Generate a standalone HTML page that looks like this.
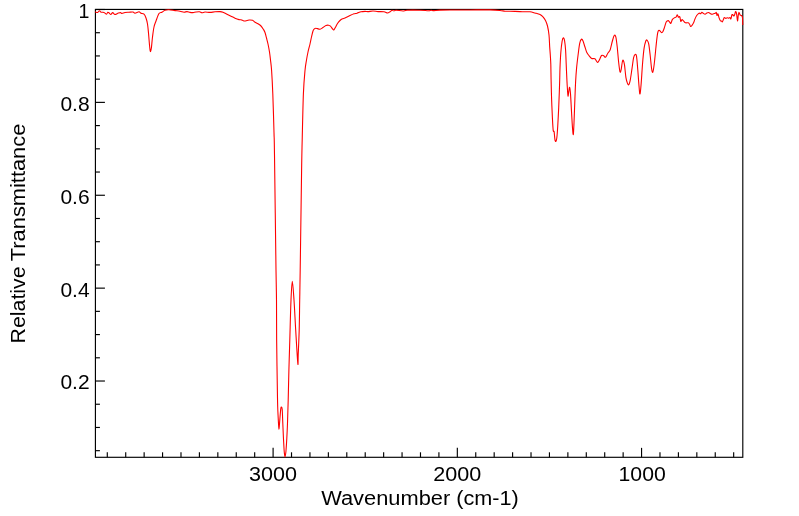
<!DOCTYPE html>
<html>
<head>
<meta charset="utf-8">
<title>IR Spectrum</title>
<style>
html,body{margin:0;padding:0;background:#fff;}
body{width:799px;height:516px;overflow:hidden;}
svg{display:block;will-change:transform;}
text{font-family:"Liberation Sans",sans-serif;font-size:19.6px;fill:#000;}
text.t{font-size:20px;}
</style>
</head>
<body>
<svg width="799" height="516" viewBox="0 0 799 516">
<rect x="0" y="0" width="799" height="516" fill="#ffffff"/>
<g stroke="#000" stroke-width="1.15" fill="none">
<rect x="95.42" y="9.43" width="647.38" height="447.87"/>
<line x1="95.42" y1="450.68" x2="99.92" y2="450.68"/>
<line x1="95.42" y1="427.46" x2="99.92" y2="427.46"/>
<line x1="95.42" y1="404.24" x2="99.92" y2="404.24"/>
<line x1="95.42" y1="381.02" x2="104.92" y2="381.02"/>
<line x1="95.42" y1="357.80" x2="99.92" y2="357.80"/>
<line x1="95.42" y1="334.58" x2="99.92" y2="334.58"/>
<line x1="95.42" y1="311.36" x2="99.92" y2="311.36"/>
<line x1="95.42" y1="288.14" x2="104.92" y2="288.14"/>
<line x1="95.42" y1="264.92" x2="99.92" y2="264.92"/>
<line x1="95.42" y1="241.70" x2="99.92" y2="241.70"/>
<line x1="95.42" y1="218.48" x2="99.92" y2="218.48"/>
<line x1="95.42" y1="195.26" x2="104.92" y2="195.26"/>
<line x1="95.42" y1="172.04" x2="99.92" y2="172.04"/>
<line x1="95.42" y1="148.82" x2="99.92" y2="148.82"/>
<line x1="95.42" y1="125.60" x2="99.92" y2="125.60"/>
<line x1="95.42" y1="102.38" x2="104.92" y2="102.38"/>
<line x1="95.42" y1="79.16" x2="99.92" y2="79.16"/>
<line x1="95.42" y1="55.94" x2="99.92" y2="55.94"/>
<line x1="95.42" y1="32.72" x2="99.92" y2="32.72"/>
<line x1="95.42" y1="9.50" x2="104.92" y2="9.50"/>
<line x1="733.67" y1="457.30" x2="733.67" y2="452.30"/>
<line x1="715.25" y1="457.30" x2="715.25" y2="452.30"/>
<line x1="696.83" y1="457.30" x2="696.83" y2="452.30"/>
<line x1="678.41" y1="457.30" x2="678.41" y2="452.30"/>
<line x1="659.98" y1="457.30" x2="659.98" y2="452.30"/>
<line x1="641.56" y1="457.30" x2="641.56" y2="447.85"/>
<line x1="623.14" y1="457.30" x2="623.14" y2="452.30"/>
<line x1="604.71" y1="457.30" x2="604.71" y2="452.30"/>
<line x1="586.29" y1="457.30" x2="586.29" y2="452.30"/>
<line x1="567.87" y1="457.30" x2="567.87" y2="452.30"/>
<line x1="549.45" y1="457.30" x2="549.45" y2="452.30"/>
<line x1="531.02" y1="457.30" x2="531.02" y2="452.30"/>
<line x1="512.60" y1="457.30" x2="512.60" y2="452.30"/>
<line x1="494.18" y1="457.30" x2="494.18" y2="452.30"/>
<line x1="475.75" y1="457.30" x2="475.75" y2="452.30"/>
<line x1="457.33" y1="457.30" x2="457.33" y2="447.85"/>
<line x1="438.91" y1="457.30" x2="438.91" y2="452.30"/>
<line x1="420.48" y1="457.30" x2="420.48" y2="452.30"/>
<line x1="402.06" y1="457.30" x2="402.06" y2="452.30"/>
<line x1="383.64" y1="457.30" x2="383.64" y2="452.30"/>
<line x1="365.22" y1="457.30" x2="365.22" y2="452.30"/>
<line x1="346.79" y1="457.30" x2="346.79" y2="452.30"/>
<line x1="328.37" y1="457.30" x2="328.37" y2="452.30"/>
<line x1="309.95" y1="457.30" x2="309.95" y2="452.30"/>
<line x1="291.52" y1="457.30" x2="291.52" y2="452.30"/>
<line x1="273.10" y1="457.30" x2="273.10" y2="447.85"/>
<line x1="254.68" y1="457.30" x2="254.68" y2="452.30"/>
<line x1="236.25" y1="457.30" x2="236.25" y2="452.30"/>
<line x1="217.83" y1="457.30" x2="217.83" y2="452.30"/>
<line x1="199.41" y1="457.30" x2="199.41" y2="452.30"/>
<line x1="180.99" y1="457.30" x2="180.99" y2="452.30"/>
<line x1="162.56" y1="457.30" x2="162.56" y2="452.30"/>
<line x1="144.14" y1="457.30" x2="144.14" y2="452.30"/>
<line x1="125.72" y1="457.30" x2="125.72" y2="452.30"/>
<line x1="107.29" y1="457.30" x2="107.29" y2="452.30"/>
</g>
<path fill="none" stroke="#ff0000" stroke-width="1.1" stroke-linejoin="round" stroke-linecap="butt" d="M95.00,11.70C95.43,11.83 96.85,12.67 97.60,12.50C98.35,12.33 98.93,10.75 99.50,10.70C100.07,10.65 100.25,11.92 101.00,12.20C101.75,12.48 103.08,12.07 104.00,12.40C104.92,12.73 105.87,14.23 106.50,14.20C107.13,14.17 107.33,12.38 107.80,12.20C108.27,12.02 108.80,12.72 109.30,13.10C109.80,13.48 110.23,14.58 110.80,14.50C111.37,14.42 112.02,12.60 112.70,12.60C113.38,12.60 113.97,14.42 114.90,14.50C115.83,14.58 117.35,13.42 118.30,13.10C119.25,12.78 119.98,12.53 120.60,12.60C121.22,12.67 121.27,13.52 122.00,13.50C122.73,13.48 123.83,12.72 125.00,12.50C126.17,12.28 127.67,12.28 129.00,12.20C130.33,12.12 132.00,11.83 133.00,12.00C134.00,12.17 134.00,13.23 135.00,13.20C136.00,13.17 138.00,11.80 139.00,11.80C140.00,11.80 140.17,12.80 141.00,13.20C141.83,13.60 143.17,13.40 144.00,14.20C144.83,15.00 145.42,16.37 146.00,18.00C146.58,19.63 147.08,21.50 147.50,24.00C147.92,26.50 148.17,29.50 148.50,33.00C148.83,36.50 149.23,42.10 149.50,45.00C149.77,47.90 149.93,49.30 150.10,50.40C150.27,51.50 150.37,51.60 150.50,51.60C150.63,51.60 150.73,51.17 150.90,50.40C151.07,49.63 151.23,49.23 151.50,47.00C151.77,44.77 152.08,40.33 152.50,37.00C152.92,33.67 153.42,29.67 154.00,27.00C154.58,24.33 155.17,23.25 156.00,21.00C156.83,18.75 158.00,14.97 159.00,13.50C160.00,12.03 161.00,12.75 162.00,12.20C163.00,11.65 163.83,10.60 165.00,10.20C166.17,9.80 167.33,9.73 169.00,9.80C170.67,9.87 173.17,10.37 175.00,10.60C176.83,10.83 178.50,10.93 180.00,11.20C181.50,11.47 182.83,12.13 184.00,12.20C185.17,12.27 186.00,11.57 187.00,11.60C188.00,11.63 189.00,12.23 190.00,12.40C191.00,12.57 192.00,12.67 193.00,12.60C194.00,12.53 194.92,12.13 196.00,12.00C197.08,11.87 198.50,11.67 199.50,11.80C200.50,11.93 201.08,12.77 202.00,12.80C202.92,12.83 203.67,12.07 205.00,12.00C206.33,11.93 208.33,12.43 210.00,12.40C211.67,12.37 213.33,11.93 215.00,11.80C216.67,11.67 218.67,11.53 220.00,11.60C221.33,11.67 221.83,11.77 223.00,12.20C224.17,12.63 225.67,13.53 227.00,14.20C228.33,14.87 229.67,15.53 231.00,16.20C232.33,16.87 233.67,17.63 235.00,18.20C236.33,18.77 238.00,19.33 239.00,19.60C240.00,19.87 240.17,19.57 241.00,19.80C241.83,20.03 243.17,20.83 244.00,21.00C244.83,21.17 245.17,20.97 246.00,20.80C246.83,20.63 247.92,20.08 249.00,20.00C250.08,19.92 251.50,19.93 252.50,20.30C253.50,20.67 254.08,21.62 255.00,22.20C255.92,22.78 257.00,23.17 258.00,23.80C259.00,24.43 260.08,25.05 261.00,26.00C261.92,26.95 262.83,28.42 263.50,29.50C264.17,30.58 264.50,31.08 265.00,32.50C265.50,33.92 266.00,36.08 266.50,38.00C267.00,39.92 267.50,41.67 268.00,44.00C268.50,46.33 269.08,49.33 269.50,52.00C269.92,54.67 270.15,56.92 270.50,60.00C270.85,63.08 271.22,64.87 271.60,70.50C271.98,76.13 272.40,83.47 272.80,93.80C273.20,104.13 273.72,122.30 274.00,132.50C274.28,142.70 274.17,132.08 274.50,155.00C274.83,177.92 275.67,245.83 276.00,270.00C276.33,294.17 276.39,288.33 276.50,300.00C276.61,311.67 276.48,323.67 276.65,340.00C276.82,356.33 277.27,385.48 277.50,398.00C277.73,410.52 277.87,410.60 278.05,415.10C278.23,419.60 278.44,422.63 278.60,425.00C278.76,427.37 278.87,429.30 279.00,429.30C279.13,429.30 279.25,426.78 279.40,425.00C279.55,423.22 279.67,421.32 279.90,418.60C280.13,415.88 280.53,410.63 280.80,408.70C281.07,406.77 281.27,406.90 281.50,407.00C281.73,407.10 281.98,406.58 282.20,409.30C282.42,412.02 282.60,418.65 282.80,423.30C283.00,427.95 283.18,432.75 283.40,437.20C283.62,441.65 283.90,447.03 284.10,450.00C284.30,452.97 284.45,453.83 284.60,455.00C284.75,456.17 284.87,457.00 285.00,457.00C285.13,457.00 285.24,455.97 285.40,455.00C285.56,454.03 285.72,453.97 285.95,451.20C286.18,448.43 286.54,443.05 286.80,438.40C287.06,433.75 287.27,429.70 287.50,423.30C287.73,416.90 287.97,408.88 288.20,400.00C288.43,391.12 288.63,380.00 288.90,370.00C289.17,360.00 289.45,351.67 289.80,340.00C290.15,328.33 290.58,309.78 291.00,300.00C291.42,290.22 291.80,281.30 292.30,281.30C292.80,281.30 293.43,291.88 294.00,300.00C294.57,308.12 295.07,319.45 295.70,330.00C296.33,340.55 297.38,359.17 297.80,363.30C298.22,367.43 297.97,360.35 298.20,354.80C298.43,349.25 298.95,339.13 299.20,330.00C299.45,320.87 299.53,310.00 299.70,300.00C299.87,290.00 299.88,291.67 300.20,270.00C300.52,248.33 301.27,191.67 301.60,170.00C301.93,148.33 301.90,152.70 302.20,140.00C302.50,127.30 302.93,105.38 303.40,93.80C303.87,82.22 304.48,76.13 305.00,70.50C305.52,64.87 306.00,63.08 306.50,60.00C307.00,56.92 307.42,54.67 308.00,52.00C308.58,49.33 309.42,46.50 310.00,44.00C310.58,41.50 311.00,39.17 311.50,37.00C312.00,34.83 312.50,32.37 313.00,31.00C313.50,29.63 314.00,29.27 314.50,28.80C315.00,28.33 315.08,28.13 316.00,28.20C316.92,28.27 318.83,29.32 320.00,29.20C321.17,29.08 322.00,28.12 323.00,27.50C324.00,26.88 325.08,25.88 326.00,25.50C326.92,25.12 327.75,25.08 328.50,25.20C329.25,25.32 329.67,25.40 330.50,26.20C331.33,27.00 332.75,29.70 333.50,30.00C334.25,30.30 334.33,29.08 335.00,28.00C335.67,26.92 336.67,24.75 337.50,23.50C338.33,22.25 339.17,21.28 340.00,20.50C340.83,19.72 341.67,19.22 342.50,18.80C343.33,18.38 343.75,18.55 345.00,18.00C346.25,17.45 348.50,16.20 350.00,15.50C351.50,14.80 352.83,14.18 354.00,13.80C355.17,13.42 355.83,13.53 357.00,13.20C358.17,12.87 359.67,12.10 361.00,11.80C362.33,11.50 363.83,11.43 365.00,11.40C366.17,11.37 366.67,11.67 368.00,11.60C369.33,11.53 371.33,11.00 373.00,11.00C374.67,11.00 376.17,11.47 378.00,11.60C379.83,11.73 382.42,11.57 384.00,11.80C385.58,12.03 386.50,13.00 387.50,13.00C388.50,13.00 389.25,12.27 390.00,11.80C390.75,11.33 391.33,10.33 392.00,10.20C392.67,10.07 393.33,11.00 394.00,11.00C394.67,11.00 394.50,10.20 396.00,10.20C397.50,10.20 401.17,11.00 403.00,11.00C404.83,11.00 404.17,10.33 407.00,10.20C409.83,10.07 416.42,10.10 420.00,10.20C423.58,10.30 426.67,10.78 428.50,10.80C430.33,10.82 430.08,10.33 431.00,10.30C431.92,10.27 432.50,10.63 434.00,10.60C435.50,10.57 436.50,10.20 440.00,10.10C443.50,10.00 450.00,10.03 455.00,10.00C460.00,9.97 465.83,9.97 470.00,9.95C474.17,9.92 476.67,9.86 480.00,9.85C483.33,9.84 486.67,9.79 490.00,9.90C493.33,10.01 497.50,10.28 500.00,10.50C502.50,10.72 503.33,11.08 505.00,11.20C506.67,11.32 507.50,11.13 510.00,11.20C512.50,11.27 517.50,11.50 520.00,11.60C522.50,11.70 523.33,11.77 525.00,11.80C526.67,11.83 528.33,11.60 530.00,11.80C531.67,12.00 533.33,12.55 535.00,13.00C536.67,13.45 538.67,13.87 540.00,14.50C541.33,15.13 542.08,15.80 543.00,16.80C543.92,17.80 544.75,18.97 545.50,20.50C546.25,22.03 546.92,23.58 547.50,26.00C548.08,28.42 548.63,31.50 549.00,35.00C549.37,38.50 549.48,43.67 549.70,47.00C549.92,50.33 550.12,52.15 550.30,55.00C550.48,57.85 550.67,59.93 550.80,64.10C550.93,68.27 550.97,74.20 551.10,80.00C551.23,85.80 551.38,92.60 551.60,98.90C551.82,105.20 552.13,112.55 552.40,117.80C552.67,123.05 552.92,128.08 553.20,130.40C553.48,132.72 553.82,130.22 554.10,131.70C554.38,133.18 554.62,137.67 554.90,139.30C555.18,140.93 555.48,141.72 555.80,141.50C556.12,141.28 556.48,140.47 556.80,138.00C557.12,135.53 557.38,131.75 557.70,126.70C558.02,121.65 558.43,113.38 558.70,107.70C558.97,102.02 559.13,97.22 559.30,92.60C559.47,87.98 559.58,84.12 559.70,80.00C559.82,75.88 559.82,72.43 560.00,67.90C560.18,63.37 560.45,57.22 560.80,52.80C561.15,48.38 561.68,43.88 562.10,41.40C562.52,38.92 562.88,38.00 563.30,37.90C563.72,37.80 564.22,38.73 564.60,40.80C564.98,42.87 565.33,46.42 565.60,50.30C565.87,54.18 565.98,59.15 566.20,64.10C566.42,69.05 566.68,75.68 566.90,80.00C567.12,84.32 567.32,87.32 567.50,90.00C567.68,92.68 567.78,95.88 568.00,96.10C568.22,96.32 568.53,92.77 568.80,91.30C569.07,89.83 569.32,86.87 569.60,87.30C569.88,87.73 570.18,89.87 570.50,93.90C570.82,97.93 571.17,105.83 571.50,111.50C571.83,117.17 572.20,124.07 572.50,127.90C572.80,131.73 573.05,135.33 573.30,134.50C573.55,133.67 573.73,128.83 574.00,122.90C574.27,116.97 574.63,105.72 574.90,98.90C575.17,92.08 575.32,87.17 575.60,82.00C575.88,76.83 576.17,72.57 576.60,67.90C577.03,63.23 577.68,58.10 578.20,54.00C578.72,49.90 579.17,45.75 579.70,43.30C580.23,40.85 580.87,39.72 581.40,39.30C581.93,38.88 582.33,39.60 582.90,40.80C583.47,42.00 584.17,44.60 584.80,46.50C585.43,48.40 585.97,50.63 586.70,52.20C587.43,53.77 588.37,54.85 589.20,55.90C590.03,56.95 590.75,58.02 591.70,58.50C592.65,58.98 593.93,58.15 594.90,58.80C595.87,59.45 596.75,62.22 597.50,62.40C598.25,62.58 598.73,61.05 599.40,59.90C600.07,58.75 600.78,56.18 601.50,55.50C602.22,54.82 603.03,55.52 603.70,55.80C604.37,56.08 604.82,57.62 605.50,57.20C606.18,56.78 607.02,54.55 607.80,53.30C608.58,52.05 609.43,51.75 610.20,49.70C610.97,47.65 611.73,43.37 612.40,41.00C613.07,38.63 613.63,36.18 614.20,35.50C614.77,34.82 615.30,35.02 615.80,36.90C616.30,38.78 616.72,42.48 617.20,46.80C617.68,51.12 618.23,58.63 618.70,62.80C619.17,66.97 619.60,70.60 620.00,71.80C620.40,73.00 620.72,71.63 621.10,70.00C621.48,68.37 621.93,63.62 622.30,62.00C622.67,60.38 622.93,59.82 623.30,60.30C623.67,60.78 624.07,62.07 624.50,64.90C624.93,67.73 625.42,74.27 625.90,77.30C626.38,80.33 626.93,81.85 627.40,83.10C627.87,84.35 628.25,85.17 628.70,84.80C629.15,84.43 629.55,83.60 630.10,80.90C630.65,78.20 631.42,72.47 632.00,68.60C632.58,64.73 633.08,60.05 633.60,57.70C634.12,55.35 634.62,54.75 635.10,54.50C635.58,54.25 636.05,53.62 636.50,56.20C636.95,58.78 637.38,65.03 637.80,70.00C638.22,74.97 638.63,82.00 639.00,86.00C639.37,90.00 639.63,94.48 640.00,94.00C640.37,93.52 640.78,88.07 641.20,83.10C641.62,78.13 642.02,70.02 642.50,64.20C642.98,58.38 643.55,52.07 644.10,48.20C644.65,44.33 645.32,42.33 645.80,41.00C646.28,39.67 646.52,39.72 647.00,40.20C647.48,40.68 648.17,41.35 648.70,43.90C649.23,46.45 649.72,51.38 650.20,55.50C650.68,59.62 651.17,65.82 651.60,68.60C652.03,71.38 652.37,72.93 652.80,72.20C653.23,71.47 653.67,68.43 654.20,64.20C654.73,59.97 655.58,50.83 656.00,46.80C656.42,42.77 656.42,42.33 656.70,40.00C656.98,37.67 657.37,34.40 657.70,32.80C658.03,31.20 658.37,30.77 658.70,30.40C659.03,30.03 659.25,30.25 659.70,30.60C660.15,30.95 660.88,32.30 661.40,32.50C661.92,32.70 662.28,32.65 662.80,31.80C663.32,30.95 663.93,29.03 664.50,27.40C665.07,25.77 665.58,23.13 666.20,22.00C666.82,20.87 667.63,20.60 668.20,20.60C668.77,20.60 669.15,21.55 669.60,22.00C670.05,22.45 670.45,23.70 670.90,23.30C671.35,22.90 671.73,20.50 672.30,19.60C672.87,18.70 673.68,18.32 674.30,17.90C674.92,17.48 675.50,17.62 676.00,17.10C676.50,16.58 676.90,14.78 677.30,14.80C677.70,14.82 677.98,16.88 678.40,17.20C678.82,17.52 679.40,16.02 679.80,16.70C680.20,17.38 680.42,20.82 680.80,21.30C681.18,21.78 681.65,19.67 682.10,19.60C682.55,19.53 682.93,20.37 683.50,20.90C684.07,21.43 684.72,22.48 685.50,22.80C686.28,23.12 687.52,22.55 688.20,22.80C688.88,23.05 689.20,23.70 689.60,24.30C690.00,24.90 690.20,26.22 690.60,26.40C691.00,26.58 691.48,26.03 692.00,25.40C692.52,24.77 693.20,23.68 693.70,22.60C694.20,21.52 694.50,20.08 695.00,18.90C695.50,17.72 696.13,16.37 696.70,15.50C697.27,14.63 697.95,14.10 698.40,13.70C698.85,13.30 699.05,13.08 699.40,13.10C699.75,13.12 700.08,13.93 700.50,13.80C700.92,13.67 701.42,12.35 701.90,12.30C702.38,12.25 702.87,13.18 703.40,13.50C703.93,13.82 704.53,14.28 705.10,14.20C705.67,14.12 706.23,13.28 706.80,13.00C707.37,12.72 707.93,12.42 708.50,12.50C709.07,12.58 709.63,13.22 710.20,13.50C710.77,13.78 711.33,14.17 711.90,14.20C712.47,14.23 713.03,13.85 713.60,13.70C714.17,13.55 714.85,13.50 715.30,13.30C715.75,13.10 716.02,12.13 716.30,12.50C716.58,12.87 716.72,15.28 717.00,15.50C717.28,15.72 717.67,13.45 718.00,13.80C718.33,14.15 718.60,16.45 719.00,17.60C719.40,18.75 720.00,20.12 720.40,20.70C720.80,21.28 721.07,20.92 721.40,21.10C721.73,21.28 722.07,22.05 722.40,21.80C722.73,21.55 723.08,20.30 723.40,19.60C723.72,18.90 723.90,17.80 724.30,17.60C724.70,17.40 725.27,18.37 725.80,18.40C726.33,18.43 727.00,17.83 727.50,17.80C728.00,17.77 728.40,18.23 728.80,18.20C729.20,18.17 729.55,17.48 729.90,17.60C730.25,17.72 730.58,19.30 730.90,18.90C731.22,18.50 731.52,15.93 731.80,15.20C732.08,14.47 732.25,14.33 732.60,14.50C732.95,14.67 733.55,16.20 733.90,16.20C734.25,16.20 734.42,15.27 734.70,14.50C734.98,13.73 735.28,11.72 735.60,11.60C735.92,11.48 736.28,12.25 736.60,13.80C736.92,15.35 737.22,20.67 737.50,20.90C737.78,21.13 738.05,16.63 738.30,15.20C738.55,13.77 738.72,12.37 739.00,12.30C739.28,12.23 739.60,14.27 740.00,14.80C740.40,15.33 741.00,15.10 741.40,15.50C741.80,15.90 742.17,15.62 742.40,17.20C742.63,18.78 742.73,23.70 742.80,25.00"/>
<g>
<text x="89.3" y="17.90" text-anchor="end">1</text>
<text x="60.4" y="110.78" textLength="29.2" lengthAdjust="spacingAndGlyphs">0.8</text>
<text x="60.4" y="203.66" textLength="29.2" lengthAdjust="spacingAndGlyphs">0.6</text>
<text x="60.4" y="296.54" textLength="29.2" lengthAdjust="spacingAndGlyphs">0.4</text>
<text x="60.4" y="389.42" textLength="29.2" lengthAdjust="spacingAndGlyphs">0.2</text>
<text x="249.10" y="480.8" textLength="48" lengthAdjust="spacingAndGlyphs">3000</text>
<text x="433.33" y="480.8" textLength="48" lengthAdjust="spacingAndGlyphs">2000</text>
<text x="618.56" y="480.8" textLength="47.2" lengthAdjust="spacingAndGlyphs">1000</text>
<text class="t" x="321.2" y="504.7" textLength="129" lengthAdjust="spacingAndGlyphs">Wavenumber</text>
<text class="t" x="456.2" y="504.7" textLength="62.5" lengthAdjust="spacingAndGlyphs">(cm-1)</text>
<text class="t" transform="translate(24.6,343.4) rotate(-90)" x="0" y="0" textLength="77" lengthAdjust="spacingAndGlyphs">Relative</text>
<text class="t" transform="translate(24.6,261.2) rotate(-90)" x="0" y="0" textLength="137.5" lengthAdjust="spacingAndGlyphs">Transmittance</text>
</g>
</svg>
</body>
</html>
